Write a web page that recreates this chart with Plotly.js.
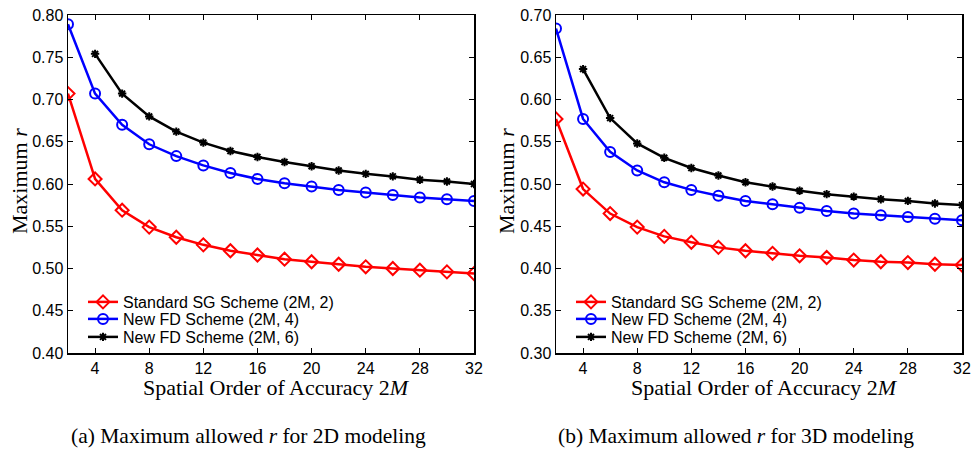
<!DOCTYPE html>
<html>
<head>
<meta charset="utf-8">
<script src="https://cdn.plot.ly/plotly-3.0.1.min.js"></script>
<style>html,body{margin:0;padding:0;background:#fff}#chart{width:974px;height:451px}</style>
</head>
<body>
<div id="chart"></div>
<script>
// Spatial order of accuracy 2M
const orders = [2,4,6,8,10,12,14,16,18,20,22,24,26,28,30,32];
const ordersFrom4 = [4,6,8,10,12,14,16,18,20,22,24,26,28,30,32];

// (a) 2D modeling
const sg2D   = [0.707,0.606,0.569,0.549,0.537,0.528,0.521,0.516,0.511,0.508,0.505,0.502,0.500,0.498,0.496,0.494];
const fd4_2D = [0.789,0.707,0.670,0.647,0.633,0.622,0.613,0.606,0.601,0.597,0.593,0.590,0.587,0.584,0.582,0.580];
const fd6_2D = [0.754,0.707,0.680,0.662,0.649,0.639,0.632,0.626,0.621,0.616,0.612,0.609,0.605,0.603,0.600];

// (b) 3D modeling
const sg3D   = [0.577,0.494,0.465,0.449,0.438,0.431,0.425,0.421,0.418,0.415,0.413,0.410,0.408,0.407,0.405,0.404];
const fd4_3D = [0.684,0.577,0.538,0.516,0.502,0.493,0.486,0.480,0.476,0.472,0.468,0.465,0.463,0.461,0.459,0.457];
const fd6_3D = [0.636,0.578,0.548,0.531,0.519,0.510,0.502,0.497,0.492,0.488,0.485,0.482,0.480,0.477,0.475];

const seriesNames = ["Standard SG Scheme (2M, 2)", "New FD Scheme (2M, 4)", "New FD Scheme (2M, 6)"];
const captions = ["(a) Maximum allowed <i>r</i> for 2D modeling", "(b) Maximum allowed <i>r</i> for 3D modeling"];
const xTitle = "Spatial Order of Accuracy 2<i>M</i>";
const yTitle = "Maximum <i>r</i>";

const styles = [
  {color:"#ff0000", symbol:"diamond-open", size:10},
  {color:"#0000ff", symbol:"circle-open", size:10},
  {color:"#000000", symbol:"asterisk-open", size:7}
];

function mk(x, y, i, xa, ya, leg){
  return {
    x:x, y:y, type:"scatter", mode:"lines+markers", name:seriesNames[i],
    xaxis:xa, yaxis:ya, legend:leg,
    line:{color:styles[i].color, width:2.5},
    marker:{symbol:styles[i].symbol, size:styles[i].size, color:styles[i].color,
            line:{color:styles[i].color, width:2}}
  };
}

const data = [
  mk(orders, sg2D, 0, "x", "y", "legend"),
  mk(orders, fd4_2D, 1, "x", "y", "legend2"),
  mk(ordersFrom4, fd6_2D, 2, "x", "y", "legend3"),
  mk(orders, sg3D, 0, "x2", "y2", "legend4"),
  mk(orders, fd4_3D, 1, "x2", "y2", "legend5"),
  mk(ordersFrom4, fd6_3D, 2, "x2", "y2", "legend6")
];

const W = 974, H = 451;
const px = v => v / W;
const py = v => 1 - v / H;

const tickFont = {family:"Liberation Sans, Arial, sans-serif", size:16, color:"#000"};
function xax(dom){
  return {domain:dom, range:[2,32], tickmode:"linear", tick0:0, dtick:4,
    showline:true, linecolor:"#000", linewidth:1.5, mirror:"ticks", ticks:"inside",
    ticklen:5, tickcolor:"#000", tickwidth:1, showgrid:false, zeroline:false, tickfont:tickFont,
    fixedrange:true};
}
function yax(dom, r, anchor){
  return {domain:dom, range:r, anchor:anchor, tickmode:"linear", tick0:0, dtick:0.05, tickformat:".2f",
    showline:true, linecolor:"#000", linewidth:1.5, mirror:"ticks", ticks:"inside",
    ticklen:5, tickcolor:"#000", tickwidth:1, showgrid:false, zeroline:false, tickfont:tickFont,
    fixedrange:true};
}

const yDom = [py(353), py(15)];
const serifTitle = {family:"Liberation Serif, Times New Roman, serif", size:22, color:"#000"};
const serifCap = {family:"Liberation Serif, Times New Roman, serif", size:21.5, color:"#000"};
const legFont = {family:"Liberation Sans, Arial, sans-serif", size:16, color:"#000"};

function leg(xpx, ypx){
  return {x:px(xpx), y:py(ypx), xanchor:"left", yanchor:"middle", bgcolor:"rgba(0,0,0,0)",
    borderwidth:0, font:legFont, tracegroupgap:0, itemwidth:30};
}
const rows = [302, 319, 337];

const layout = {
  width:W, height:H, margin:{l:0,r:0,t:0,b:0},
  paper_bgcolor:"#fff", plot_bgcolor:"#fff", showlegend:true,
  xaxis: Object.assign(xax([px(68), px(474)]), {anchor:"y"}),
  yaxis: yax(yDom, [0.4,0.8], "x"),
  xaxis2: Object.assign(xax([px(556), px(962)]), {anchor:"y2"}),
  yaxis2: yax(yDom, [0.3,0.7], "x2"),
  legend: leg(83, rows[0]), legend2: leg(83, rows[1]), legend3: leg(83, rows[2]),
  legend4: leg(571, rows[0]), legend5: leg(571, rows[1]), legend6: leg(571, rows[2]),
  annotations:[
    {text:xTitle, x:px(276), y:py(387), xref:"paper", yref:"paper", showarrow:false, font:serifTitle, xanchor:"center", yanchor:"middle"},
    {text:xTitle, x:px(764), y:py(387), xref:"paper", yref:"paper", showarrow:false, font:serifTitle, xanchor:"center", yanchor:"middle"},
    {text:yTitle, x:px(19), y:py(181), xref:"paper", yref:"paper", showarrow:false, font:serifTitle, textangle:-90, xanchor:"center", yanchor:"middle"},
    {text:yTitle, x:px(506), y:py(181), xref:"paper", yref:"paper", showarrow:false, font:serifTitle, textangle:-90, xanchor:"center", yanchor:"middle"},
    {text:captions[0], x:px(248), y:py(436), xref:"paper", yref:"paper", showarrow:false, font:serifCap, xanchor:"center", yanchor:"middle"},
    {text:captions[1], x:px(736), y:py(436), xref:"paper", yref:"paper", showarrow:false, font:serifCap, xanchor:"center", yanchor:"middle"}
  ]
};

Plotly.newPlot("chart", data, layout, {displayModeBar:false, staticPlot:true});
</script>
</body>
</html>
